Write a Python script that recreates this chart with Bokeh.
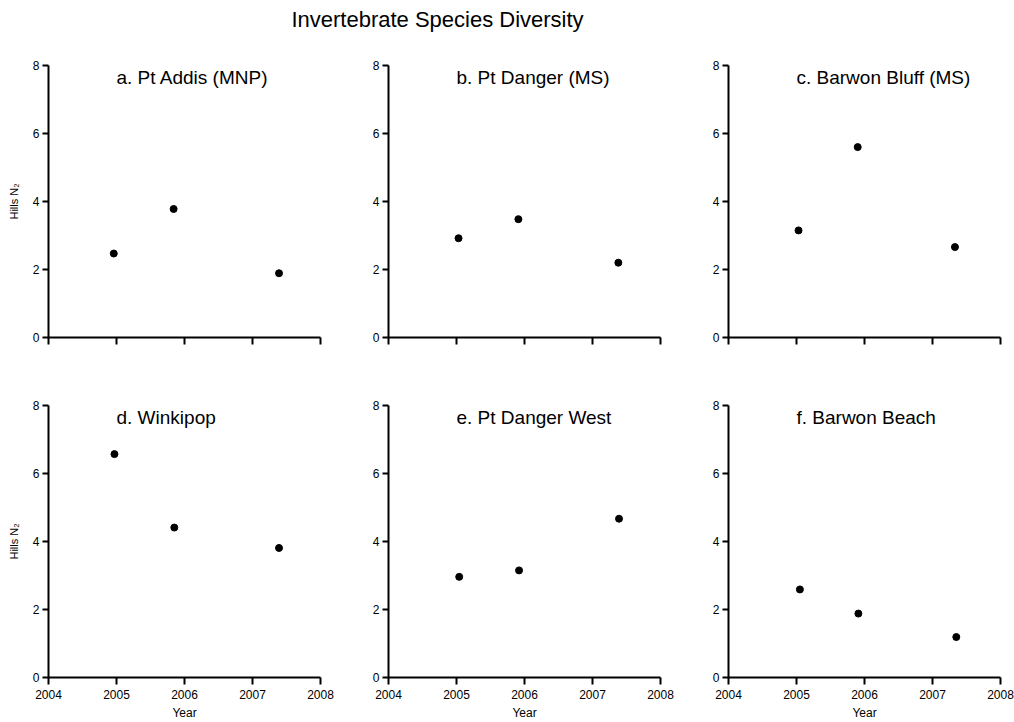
from bokeh.plotting import figure
from bokeh.models import Range1d, FixedTicker, Label, ColumnDataSource
from bokeh.layouts import column, row
from bokeh.embed import file_html
from bokeh.resources import INLINE
from bokeh.core.properties import value

FONT = "Liberation Sans"

chart_title = "Invertebrate Species Diversity"
x_label = "Year"
y_label = "Hills N\u2082"

site_names = [
    "a. Pt Addis (MNP)",
    "b. Pt Danger (MS)",
    "c. Barwon Bluff (MS)",
    "d. Winkipop",
    "e. Pt Danger West",
    "f. Barwon Beach",
]

years_a = [2004.96, 2005.84, 2007.39]
hills_a = [2.47, 3.78, 1.89]
years_b = [2005.03, 2005.91, 2007.38]
hills_b = [2.92, 3.48, 2.20]
years_c = [2005.03, 2005.90, 2007.33]
hills_c = [3.15, 5.60, 2.66]
years_d = [2004.97, 2005.85, 2007.39]
hills_d = [6.57, 4.41, 3.81]
years_e = [2005.04, 2005.92, 2007.39]
hills_e = [2.96, 3.15, 4.67]
years_f = [2005.05, 2005.91, 2007.35]
hills_f = [2.59, 1.88, 1.19]

x_ticks = [2004, 2005, 2006, 2007, 2008]
y_ticks = [0, 2, 4, 6, 8]

site_years = [years_a, years_b, years_c, years_d, years_e, years_f]
site_hills = [hills_a, hills_b, hills_c, hills_d, hills_e, hills_f]


def panel(idx):
    col = idx % 3
    rnum = idx // 3
    left = 48
    right = 20 if col < 2 else 14
    top = 25 if rnum == 0 else 15
    bottom = 53 if rnum == 0 else 45
    p = figure(width=left + 272 + right, height=top + 272 + bottom,
               x_range=Range1d(x_ticks[0], x_ticks[-1]),
               y_range=Range1d(y_ticks[0], y_ticks[-1]),
               output_backend="svg", toolbar_location=None,
               min_border_left=left, min_border_right=right,
               min_border_top=top, min_border_bottom=bottom)
    p.outline_line_color = None
    p.xgrid.visible = False
    p.ygrid.visible = False
    p.background_fill_color = "white"
    p.border_fill_color = "white"

    for ax in (p.xaxis[0], p.yaxis[0]):
        ax.axis_line_color = "black"
        ax.axis_line_width = 2
        ax.major_tick_line_color = "black"
        ax.major_tick_line_width = 2
        ax.minor_tick_line_color = None
        ax.major_tick_in = 0
        ax.major_label_text_font = FONT
        ax.major_label_text_font_size = "12px"
        ax.major_label_text_color = "black"
        ax.axis_label_text_font = FONT
        ax.axis_label_text_font_size = "12px"
        ax.axis_label_text_font_style = "normal"
        ax.axis_label_text_color = "black"

    p.xaxis.ticker = FixedTicker(ticks=x_ticks)
    p.yaxis.ticker = FixedTicker(ticks=y_ticks)
    p.xaxis.major_tick_out = 7
    p.yaxis.major_tick_out = 6
    p.yaxis.major_label_standoff = 3
    p.xaxis.formatter.use_scientific = False

    if rnum == 0:
        p.xaxis.major_label_overrides = {t: "" for t in x_ticks}
    else:
        p.xaxis.axis_label = x_label
        p.xaxis.axis_label_standoff = 4
    if col == 0:
        p.yaxis.axis_label = y_label
        p.yaxis.axis_label_standoff = 10
        p.yaxis.axis_label_text_font_size = "11px"

    src = ColumnDataSource(dict(year=site_years[idx], hills=site_hills[idx]))
    p.scatter("year", "hills", source=src, size=7, color="black")

    p.add_layout(Label(x=2005, y=7.66, text=site_names[idx],
                       text_font=FONT, text_font_size="19px",
                       text_baseline="middle", text_align="left",
                       text_color="black"))
    return p


tp = figure(width=1014, height=40, x_range=Range1d(0, 1014), y_range=Range1d(0, 40),
            output_backend="svg", toolbar_location=None,
            min_border_left=0, min_border_right=0, min_border_top=0, min_border_bottom=0)
tp.axis.visible = False
tp.grid.visible = False
tp.outline_line_color = None
tp.add_layout(Label(x=437, y=21, text=chart_title, text_font=FONT,
                    text_font_size="22px", text_align="center",
                    text_baseline="middle", text_color="black"))

panels = [panel(i) for i in range(6)]
layout = column(tp, row(*panels[:3]), row(*panels[3:]))

open("out.html", "w").write(file_html(layout, INLINE))
